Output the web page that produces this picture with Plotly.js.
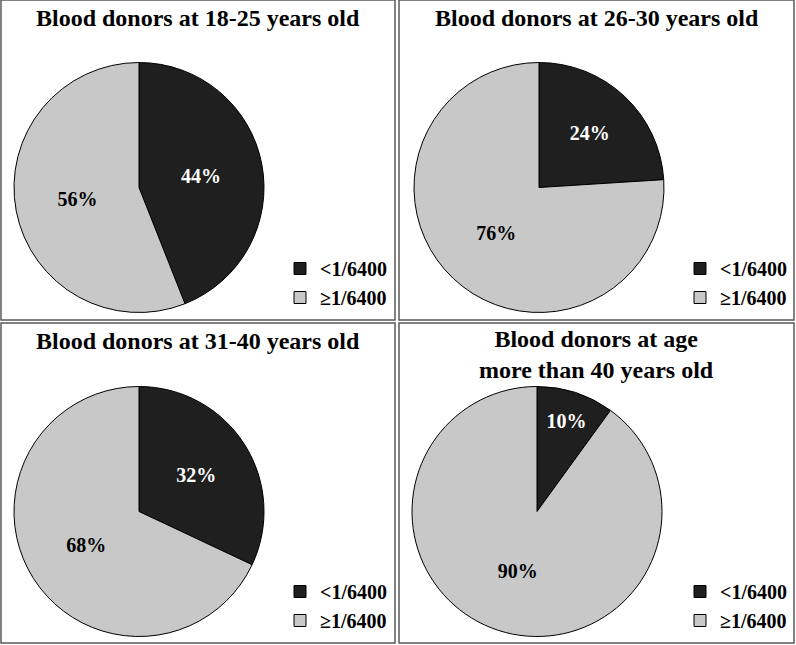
<!DOCTYPE html>
<html>
<head>
<meta charset="utf-8">
<script src="https://cdn.plot.ly/plotly-3.0.1.min.js"></script>
<style>
  html, body { margin: 0; padding: 0; background: #fff; }
  #chart { width: 796px; height: 645px; }
</style>
</head>
<body>
<div id="chart"></div>
<script>
// Data
var labels = ["<1/6400", "\u22651/6400"];
var age18to25 = [44, 56];
var age26to30 = [24, 76];
var age31to40 = [32, 68];
var ageOver40 = [10, 90];
var panelTitles = [
  "Blood donors at 18-25 years old",
  "Blood donors at 26-30 years old",
  "Blood donors at 31-40 years old",
  "Blood donors at age<br>more than 40 years old"
];

var W = 796, H = 645;
var serif = "Liberation Serif, Times New Roman, serif";
var sliceColors = ["#1f1f1f", "#c8c8c8"];

// pixel helpers -> paper coords
function px(x) { return x / W; }
function py(y) { return 1 - y / H; }

// pie centres in pixels, radius 125
var centres = [[139, 187.5], [539, 187.5], [139, 511.5], [537, 511.5]];
var R = 125;
var series = [age18to25, age26to30, age31to40, ageOver40];
var legendNames = ["legend", "legend2", "legend3", "legend4"];

var data = series.map(function (vals, i) {
  var c = centres[i];
  return {
    type: "pie",
    labels: labels,
    values: vals,
    sort: false,
    direction: "clockwise",
    rotation: 0,
    textinfo: "percent",
    textposition: "inside",
    insidetextorientation: "horizontal",
    insidetextfont: {family: serif, size: 20, color: ["#ffffff", "#000000"], weight: "bold"},
    marker: {colors: sliceColors, line: {color: "#000000", width: 1}},
    domain: {x: [px(c[0] - R), px(c[0] + R)], y: [py(c[1] + R), py(c[1] - R)]},
    legend: legendNames[i],
    legendgroup: "panel" + i,
    hoverinfo: "label+percent"
  };
});

// legend positions (top-left pixel of each legend)
var legendPos = [[280, 249], [680, 249], [280, 572], [680, 572]];
function makeLegend(p) {
  return {
    x: px(p[0]), y: py(p[1]), xanchor: "left", yanchor: "top",
    font: {family: serif, size: 20, color: "#000", weight: "bold"},
    bgcolor: "rgba(0,0,0,0)", borderwidth: 0
  };
}

// panel frames
var panels = [[1, 0, 395, 320], [399, 0, 794, 320], [1, 323, 395, 643], [399, 323, 794, 643]];
var shapes = panels.map(function (p) {
  return {
    type: "rect", xref: "paper", yref: "paper",
    x0: px(p[0]), x1: px(p[2]), y0: py(p[3]), y1: py(p[1]),
    line: {color: "#5a5a5a", width: 1.5}, fillcolor: "rgba(0,0,0,0)"
  };
});

var titleY = [18, 18, 341, 354];
var annotations = panelTitles.map(function (t, i) {
  var p = panels[i];
  return {
    text: "<b>" + t + "</b>",
    xref: "paper", yref: "paper",
    x: px((p[0] + p[2]) / 2), y: py(titleY[i]),
    xanchor: "center", yanchor: "middle",
    showarrow: false,
    font: {family: serif, size: 24, color: "#000"}
  };
});

var layout = {
  width: W, height: H,
  margin: {l: 0, r: 0, t: 0, b: 0},
  paper_bgcolor: "#ffffff",
  showlegend: true,
  legend: makeLegend(legendPos[0]),
  legend2: makeLegend(legendPos[1]),
  legend3: makeLegend(legendPos[2]),
  legend4: makeLegend(legendPos[3]),
  shapes: shapes,
  annotations: annotations
};

Plotly.newPlot("chart", data, layout, {displayModeBar: false});
</script>
</body>
</html>
